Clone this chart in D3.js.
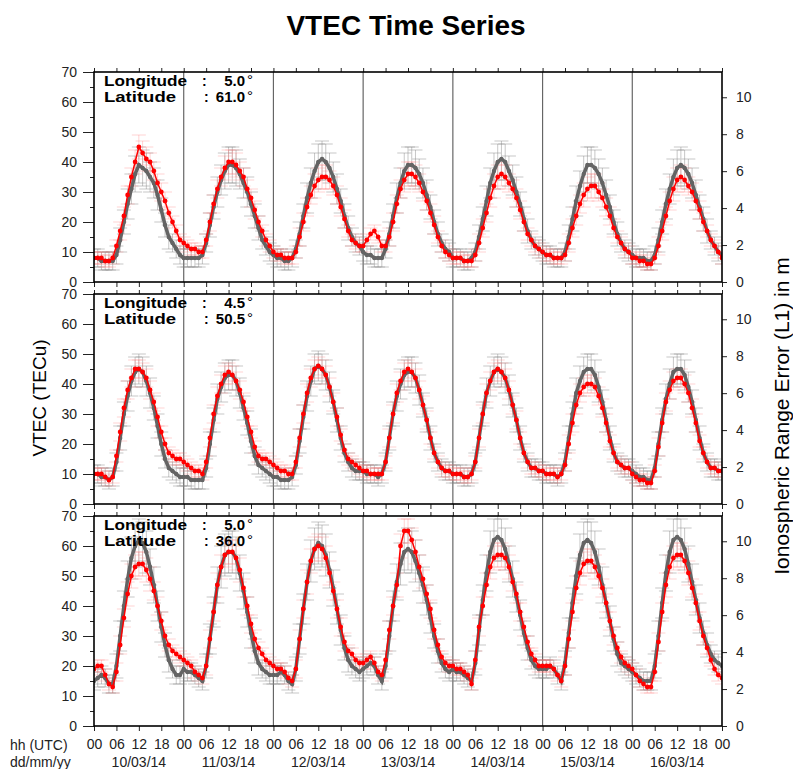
<!DOCTYPE html>
<html>
<head>
<meta charset="utf-8">
<script src="https://cdn.jsdelivr.net/npm/d3@7"></script>
<style>
body { margin: 0; background: #fff; }
svg { display: block; font-family: "Liberation Sans", Arial, sans-serif; }
</style>
</head>
<body>
<div id="viz"></div>
<script>
//Datos
const dias = ['10/03/14', '11/03/14', '12/03/14', '13/03/14', '14/03/14', '15/03/14', '16/03/14'];
const horas = ['00', '06', '12', '18'];
const longitudes = ['5.0', '4.5', '5.0'];
const latitudes = ['61.0', '50.5', '36.0'];
const ticksTECu = [0, 10, 20, 30, 40, 50, 60, 70];
const ticksMetros = [0, 2, 4, 6, 8, 10];

//Panel 1 (lat 61.0) - valores horarios
const gris1 = [
  8,8,7,7,7,7,9,14,20,26,31,36,39,38,37,35,33,29,24,19,15,13,11,9,
  8,8,8,8,8,9,13,19,25,30,34,37,39,39,38,36,33,30,26,22,18,14,12,10,
  9,8,8,7,7,8,11,16,22,28,33,37,40,41,40,38,35,31,27,22,18,15,13,12,
  10,9,9,8,8,8,11,16,22,28,33,37,39,39,38,36,33,29,25,20,16,13,11,10,
  8,8,8,7,7,8,10,15,21,27,33,37,40,41,40,37,34,30,26,21,17,14,12,11,
  10,9,9,8,8,8,10,15,21,27,32,36,39,39,38,36,33,29,25,20,16,13,11,10,
  9,8,8,8,7,7,9,14,20,26,31,35,38,39,38,36,33,29,25,21,17,14,12,10,
  9];
const rojo1 = [
  8,8,8,7,7,8,12,17,22,29,35,40,45,43,41,40,37,33,30,27,23,20,17,14,
  13,12,11,11,10,10,14,20,26,31,35,38,40,40,39,37,35,31,28,24,20,17,14,12,
  10,9,9,8,8,8,10,15,20,25,29,32,34,35,35,34,32,29,25,21,17,14,13,12,
  12,14,16,17,15,12,12,15,20,26,31,34,36,36,35,33,30,27,23,19,15,12,10,9,
  8,8,8,7,7,7,9,13,18,23,28,32,35,36,35,33,31,28,24,20,16,14,12,11,
  10,9,9,8,8,8,9,13,18,22,26,29,31,32,32,30,28,25,22,18,15,13,11,10,
  8,8,7,7,6,6,8,12,17,22,27,31,34,35,34,32,30,27,24,20,17,14,12,10,
  8];

//Panel 2 (lat 50.5)
const gris2 = [
  10,10,9,9,8,9,14,22,30,36,41,44,45,44,41,37,32,26,20,15,12,11,10,9,
  9,9,8,8,8,8,12,20,28,35,39,42,43,43,41,37,32,27,21,16,13,12,11,10,
  9,9,8,8,8,9,13,21,29,36,41,45,46,45,43,39,34,28,22,17,14,12,11,11,
  11,10,10,10,9,10,14,22,30,36,40,43,44,44,42,38,33,28,22,17,14,12,11,11,
  10,10,10,9,9,10,14,22,30,37,41,44,45,44,42,38,33,28,22,17,14,12,12,11,
  11,10,10,10,9,10,14,22,30,37,41,44,45,45,43,39,34,28,22,17,14,13,12,12,
  11,10,9,9,8,8,12,20,28,35,40,44,45,45,43,39,34,28,22,17,14,12,12,11,
  11];
const rojo2 = [
  10,10,10,9,8,9,16,24,32,38,42,45,45,44,42,38,34,29,24,20,17,16,15,15,
  14,13,12,11,11,10,14,22,30,36,40,43,44,43,41,38,34,29,24,19,16,15,15,14,
  13,12,11,11,10,10,14,22,30,37,42,45,46,45,43,39,34,29,23,18,15,14,13,12,
  11,11,10,10,10,10,14,22,30,37,41,44,45,44,42,38,33,28,22,17,14,12,11,11,
  10,10,10,9,9,10,14,22,30,37,41,44,45,44,42,38,33,28,22,17,14,12,12,11,
  11,10,10,10,9,10,13,20,27,33,37,39,40,40,39,36,32,27,21,17,14,13,12,12,
  10,9,8,8,7,7,11,19,27,34,38,41,42,42,40,37,32,27,21,17,14,12,12,11,
  11];

//Panel 3 (lat 36.0)
const gris3 = [
  15,16,17,16,14,14,20,30,40,49,56,60,62,61,58,53,47,40,33,27,22,19,17,17,
  19,18,18,17,16,15,20,29,38,47,53,57,58,58,56,51,45,38,31,25,21,19,18,17,
  17,17,18,17,15,14,19,29,39,48,55,59,61,60,57,52,46,39,32,26,22,20,19,18,
  19,20,21,20,17,15,20,30,40,48,54,58,59,58,55,51,47,42,36,30,25,21,19,18,
  19,18,18,17,16,15,21,32,42,51,58,62,63,62,59,54,49,43,37,31,26,22,20,19,
  19,19,20,19,17,15,21,31,41,50,57,61,62,61,58,53,47,41,35,29,24,21,20,19,
  18,17,16,15,15,15,20,30,41,51,58,62,63,62,59,54,48,42,36,31,27,24,22,21,
  20];
const rojo3 = [
  19,20,20,17,14,13,18,27,36,44,50,53,54,54,52,49,45,40,35,30,27,25,24,23,
  22,21,20,18,17,16,20,29,38,47,53,57,58,58,56,52,46,40,34,29,26,24,22,21,
  20,19,19,18,16,15,19,29,39,48,55,59,60,59,56,51,45,39,33,28,25,24,22,21,
  21,22,23,21,18,17,22,32,40,47,60,65,65,62,58,53,49,44,39,32,27,23,21,20,
  20,19,19,18,17,14,22,33,40,47,53,56,57,57,56,53,48,44,38,33,28,24,22,20,
  20,20,20,19,17,15,20,29,38,46,51,54,55,55,53,50,46,41,35,30,26,23,21,20,
  19,17,15,14,13,13,18,28,38,47,53,56,57,57,55,51,46,41,35,30,26,22,19,17,
  16];

//Errores por hora del día (TECu)
const errGris1 = [3,3,3,3,3,3,3,4,4,5,5,6,6,6,6,5,5,5,4,4,4,3,3,3];
const errRojo1 = [2,2,2,2,2,2,2,3,3,3,3,4,4,4,4,3,3,3,3,3,2,2,2,2];
const errGris2 = [3,3,3,3,3,3,3,4,4,5,5,5,5,5,5,5,4,4,4,3,3,3,3,3];
const errRojo2 = [2,2,2,2,2,2,2,3,3,3,3,3,3,3,3,3,3,3,2,2,2,2,2,2];
const errGris3 = [3,3,3,3,3,3,4,5,5,6,7,7,7,7,7,6,6,5,5,4,4,3,3,3];
const errRojo3 = [2,2,2,2,2,2,3,3,3,4,4,4,4,4,4,4,3,3,3,3,2,2,2,2];

const series = [
    {gris: gris1, rojo: rojo1, eg: errGris1, er: errRojo1},
    {gris: gris2, rojo: rojo2, eg: errGris2, er: errRojo2},
    {gris: gris3, rojo: rojo3, eg: errGris3, er: errRojo3}
];

//Tamaños
const W = 793, H = 769;
const left = 94, right = 722, top0 = 72, panelH = 210, gap = 12;
const TECU_A_M = 0.1624;

const svg = d3.select('#viz').append('svg')
    .attr('width', W)
    .attr('height', H);

let x = d3.scaleLinear()
    .domain([0, 168])
    .range([left, right]);

//Título
svg.append('text')
    .attr('x', 406)
    .attr('y', 35)
    .attr('text-anchor', 'middle')
    .style('font-size', '28px')
    .style('font-weight', '700')
    .text('VTEC Time Series');

series.forEach(function(s, i) {
    let top = top0 + i * (panelH + gap);
    let y = d3.scaleLinear().domain([0, 70]).range([top + panelH, top]);
    let yR = d3.scaleLinear().domain([0, 70 * TECU_A_M]).range([top + panelH, top]);

    let g = svg.append('g');

    svg.append('clipPath')
        .attr('id', 'clip' + i)
        .append('rect')
        .attr('x', left).attr('y', top)
        .attr('width', right - left).attr('height', panelH);

    let plot = g.append('g').attr('clip-path', 'url(#clip' + i + ')');

    //Líneas de día
    plot.selectAll('.dia')
        .data(d3.range(1, 7))
        .enter()
        .append('line')
        .attr('x1', function(d) { return x(d * 24); })
        .attr('x2', function(d) { return x(d * 24); })
        .attr('y1', top).attr('y2', top + panelH)
        .attr('stroke', '#666')
        .attr('stroke-width', 1.2);

    //Barras de error
    function errorBars(valores, errores, color) {
        let eb = plot.append('g')
            .attr('stroke', color)
            .attr('stroke-width', 1);
        let datos = valores.map(function(v, k) { return {k: k, v: v, e: errores[k % 24]}; });
        eb.selectAll('.v').data(datos).enter().append('line')
            .attr('x1', function(d) { return x(d.k); })
            .attr('x2', function(d) { return x(d.k); })
            .attr('y1', function(d) { return y(d.v - d.e); })
            .attr('y2', function(d) { return y(d.v + d.e); });
        eb.selectAll('.t').data(datos).enter().append('line')
            .attr('x1', function(d) { return x(d.k) - 7; })
            .attr('x2', function(d) { return x(d.k) + 7; })
            .attr('y1', function(d) { return y(d.v + d.e); })
            .attr('y2', function(d) { return y(d.v + d.e); });
        eb.selectAll('.b').data(datos).enter().append('line')
            .attr('x1', function(d) { return x(d.k) - 7; })
            .attr('x2', function(d) { return x(d.k) + 7; })
            .attr('y1', function(d) { return y(d.v - d.e); })
            .attr('y2', function(d) { return y(d.v - d.e); });
    }
    errorBars(s.gris, s.eg, 'rgba(130,130,130,0.45)');
    errorBars(s.rojo, s.er, 'rgba(255,110,110,0.3)');

    let linea = d3.line()
        .x(function(d, k) { return x(k); })
        .y(function(d) { return y(d); });

    plot.append('path')
        .datum(s.gris)
        .attr('d', linea)
        .attr('fill', 'none')
        .attr('stroke', '#646464')
        .attr('stroke-width', 3.5);

    plot.selectAll('.pg')
        .data(s.gris)
        .enter()
        .append('circle')
        .attr('cx', function(d, k) { return x(k); })
        .attr('cy', function(d) { return y(d); })
        .attr('r', 2.2)
        .attr('fill', '#646464');

    plot.append('path')
        .datum(s.rojo)
        .attr('d', linea)
        .attr('fill', 'none')
        .attr('stroke', '#ff0000')
        .attr('stroke-width', 1.5);

    plot.selectAll('.pr')
        .data(s.rojo)
        .enter()
        .append('circle')
        .attr('cx', function(d, k) { return x(k); })
        .attr('cy', function(d) { return y(d); })
        .attr('r', 2.4)
        .attr('fill', '#ff0000');

    //Ejes
    let ejes = g.append('g');

    ejes.append('g')
        .attr('transform', 'translate(' + left + ',0)')
        .call(d3.axisLeft(y).tickValues(ticksTECu).tickSize(11).tickPadding(6))
        .call(function(a) { a.select('.domain').remove(); });

    ejes.append('g')
        .attr('transform', 'translate(' + left + ',0)')
        .call(d3.axisLeft(y).tickValues([5, 15, 25, 35, 45, 55, 65]).tickSize(4).tickFormat(''))
        .call(function(a) { a.select('.domain').remove(); });

    ejes.append('g')
        .attr('transform', 'translate(' + right + ',0)')
        .call(d3.axisRight(yR).tickValues(ticksMetros).tickSize(5).tickPadding(9))
        .call(function(a) { a.select('.domain').remove(); });

    ejes.append('g')
        .attr('transform', 'translate(0,' + top + ')')
        .call(d3.axisTop(x).tickValues(d3.range(0, 169, 6)).tickSize(4).tickFormat(''))
        .call(function(a) { a.select('.domain').remove(); });

    ejes.append('g')
        .attr('transform', 'translate(0,' + (top + panelH) + ')')
        .call(d3.axisBottom(x).tickValues(d3.range(0, 169, 6)).tickSize(5).tickPadding(8)
            .tickFormat(function(d) { return i == 2 ? horas[(d / 6) % 4] : ''; }))
        .call(function(a) { a.select('.domain').remove(); });

    ejes.selectAll('text')
        .attr('fill', '#222')
        .style('font-size', '14px')
        .style('font-family', '"Liberation Sans", Arial, sans-serif');
    ejes.selectAll('line').attr('stroke', '#222');

    g.append('rect')
        .attr('x', left).attr('y', top)
        .attr('width', right - left).attr('height', panelH)
        .attr('fill', 'none')
        .attr('stroke', '#000')
        .attr('stroke-width', 1.6);

    //Coordenadas
    let info = g.append('g').style('font-size', '14px').style('font-weight', '700');
    info.append('text').attr('x', 104).attr('y', top + 14)
        .attr('textLength', 83).attr('lengthAdjust', 'spacingAndGlyphs').text('Longitude');
    info.append('text').attr('x', 104).attr('y', top + 30)
        .attr('textLength', 72).attr('lengthAdjust', 'spacingAndGlyphs').text('Latitude');
    info.append('text').attr('x', 202).attr('y', top + 14).text(':');
    info.append('text').attr('x', 204).attr('y', top + 30).text(':');
    info.append('text').attr('x', 245).attr('y', top + 14).attr('text-anchor', 'end').style('font-size', '15px').text(longitudes[i]);
    info.append('text').attr('x', 245).attr('y', top + 30).attr('text-anchor', 'end').style('font-size', '15px').text(latitudes[i]);
    info.append('text').attr('x', 247).attr('y', top + 13).style('font-size', '15px').style('font-weight', '400').text('°');
    info.append('text').attr('x', 247).attr('y', top + 29).style('font-size', '15px').style('font-weight', '400').text('°');
});

//Fechas
svg.selectAll('.fecha')
    .data(dias)
    .enter()
    .append('text')
    .attr('x', function(d, k) { return x(k * 24 + 12); })
    .attr('y', 767)
    .attr('text-anchor', 'middle')
    .attr('fill', '#222')
    .style('font-size', '14px')
    .text(function(d) { return d; });

svg.append('text').attr('x', 10).attr('y', 750).attr('fill', '#222').style('font-size', '14px').text('hh (UTC)');
svg.append('text').attr('x', 10).attr('y', 767).attr('fill', '#222').style('font-size', '14px').text('dd/mm/yy');

//Títulos de ejes
svg.append('text')
    .attr('transform', 'translate(46,398) rotate(-90)')
    .attr('text-anchor', 'middle')
    .style('font-size', '19px')
    .text('VTEC (TECu)');

svg.append('text')
    .attr('transform', 'translate(789,416) rotate(-90)')
    .attr('text-anchor', 'middle')
    .style('font-size', '21px')
    .text('Ionospheric Range Error (L1) in m');
</script>
</body>
</html>
